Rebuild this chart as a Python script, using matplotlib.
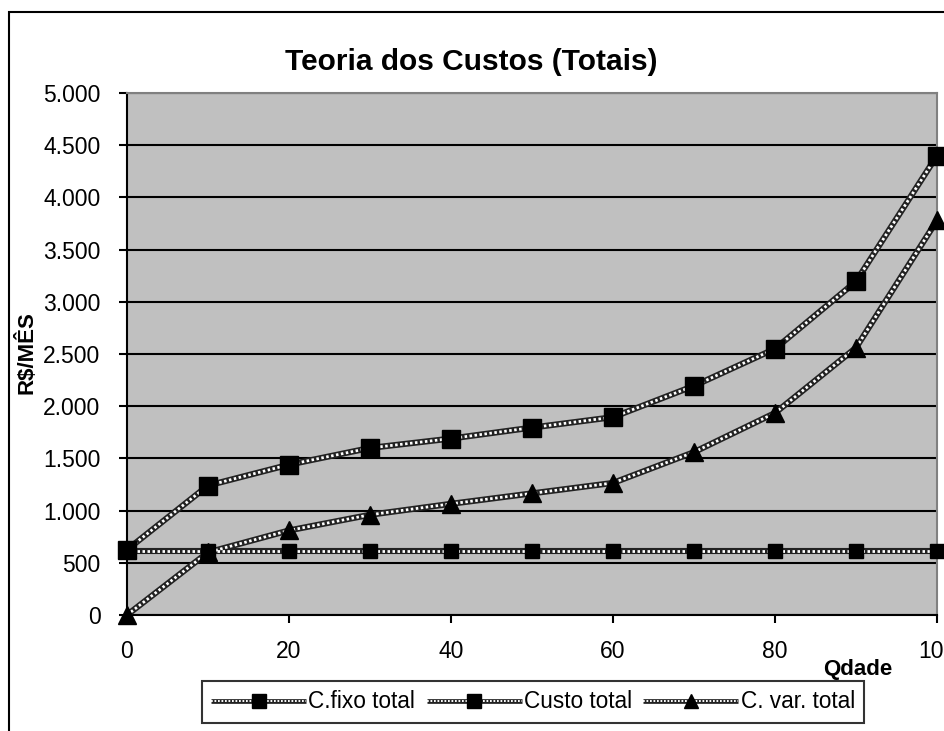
import matplotlib
matplotlib.use('Agg')
import matplotlib.pyplot as plt
from matplotlib.patches import Rectangle
from matplotlib.lines import Line2D
from matplotlib.legend_handler import HandlerTuple
from matplotlib.ticker import FuncFormatter

plt.rcParams['font.family'] = ['Liberation Sans', 'DejaVu Sans']

# data
qdade = [0, 10, 20, 30, 40, 50, 60, 70, 80, 90, 100]
c_fixo = [615, 615, 615, 615, 615, 615, 615, 615, 615, 615, 615]
custo_total = [625, 1240, 1440, 1600, 1690, 1795, 1895, 2195, 2550, 3195, 4400]
c_var = [0, 600, 810, 960, 1065, 1165, 1265, 1560, 1935, 2560, 3780]

names = ['C.fixo total', 'Custo total', 'C. var. total']
markers = ['s', 's', '^']
msizes = [9.5, 12.5, 13]

W, H = 945, 731
fig = plt.figure(figsize=(W / 100, H / 100), dpi=100)
fig.patch.set_facecolor('white')

# outer chart frame (cut off at right and bottom in the original)
fig.patches.append(Rectangle((9.5 / W, -0.1), 1.2, 1.1 - 12.5 / H,
                             transform=fig.transFigure, fill=False,
                             edgecolor='black', linewidth=1.5))

ax = fig.add_axes([127 / W, (H - 615) / H, 810 / W, 522 / H])
ax.set_facecolor('#c0c0c0')
ax.set_xlim(0, 100)
ax.set_ylim(0, 5000)
ax.set_xticks(range(0, 101, 20))
ax.set_yticks(range(0, 5001, 500))
ax.yaxis.set_major_formatter(FuncFormatter(lambda v, p: f'{int(v):,}'.replace(',', '.')))
ax.grid(axis='y', color='black', linewidth=1.5)
ax.set_axisbelow(True)

for s in ['left', 'bottom']:
    ax.spines[s].set_color('black')
    ax.spines[s].set_linewidth(1.5)
for s in ['top', 'right']:
    ax.spines[s].set_color('#808080')
    ax.spines[s].set_linewidth(1.5)

ax.tick_params(axis='y', direction='out', length=6, width=1.5, pad=13, labelsize=16.5)
ax.tick_params(axis='x', direction='out', length=6, width=1.5, pad=12, labelsize=16.5)

# checkered line look: dark thick line with white dots on top
dark = dict(color='#222222', linewidth=4.4, solid_capstyle='butt')
light = dict(color='white', linewidth=2.0, dashes=(0.9, 0.9))
dark_leg = dict(color='#222222', linewidth=3.4, solid_capstyle='butt')
light_leg = dict(color='white', linewidth=1.4, dashes=(0.9, 0.9))

handles = []
for ys, name, m, ms in zip([c_fixo, custo_total, c_var], names, markers, msizes):
    ax.plot(qdade, ys, zorder=3, clip_on=False, **dark)
    ax.plot(qdade, ys, zorder=4, clip_on=False, **light)
    ax.plot(qdade, ys, linestyle='none', marker=m, markersize=ms, color='black', zorder=5, clip_on=False)
    h = (Line2D([], [], **dark_leg),
         Line2D([], [], **light_leg),
         Line2D([], [], linestyle='none', marker=m, markersize=10, color='black'))
    handles.append(h)

fig.text(471 / W, 1 - 62 / H, 'Teoria dos Custos (Totais)', ha='center', va='center',
         fontsize=21.5, fontweight='bold')
fig.text(27 / W, 1 - 353 / H, 'R$/MÊS', rotation=90, ha='center', va='center',
         fontsize=16, fontweight='bold')
fig.text(858 / W, 1 - 670 / H, 'Qdade', ha='center', va='center',
         fontsize=16, fontweight='bold')

leg = fig.legend(handles, names, handler_map={tuple: HandlerTuple(ndivide=1, pad=0)},
                 loc='center', bbox_to_anchor=(533 / W, 1 - 702 / H), ncol=3,
                 fontsize=16.3, frameon=True, fancybox=False, edgecolor='black',
                 handlelength=4.2, handletextpad=0.1, columnspacing=0.5,
                 borderpad=0.4, borderaxespad=0)
leg.get_frame().set_linewidth(1.5)

fig.savefig('out.png', dpi=100)
